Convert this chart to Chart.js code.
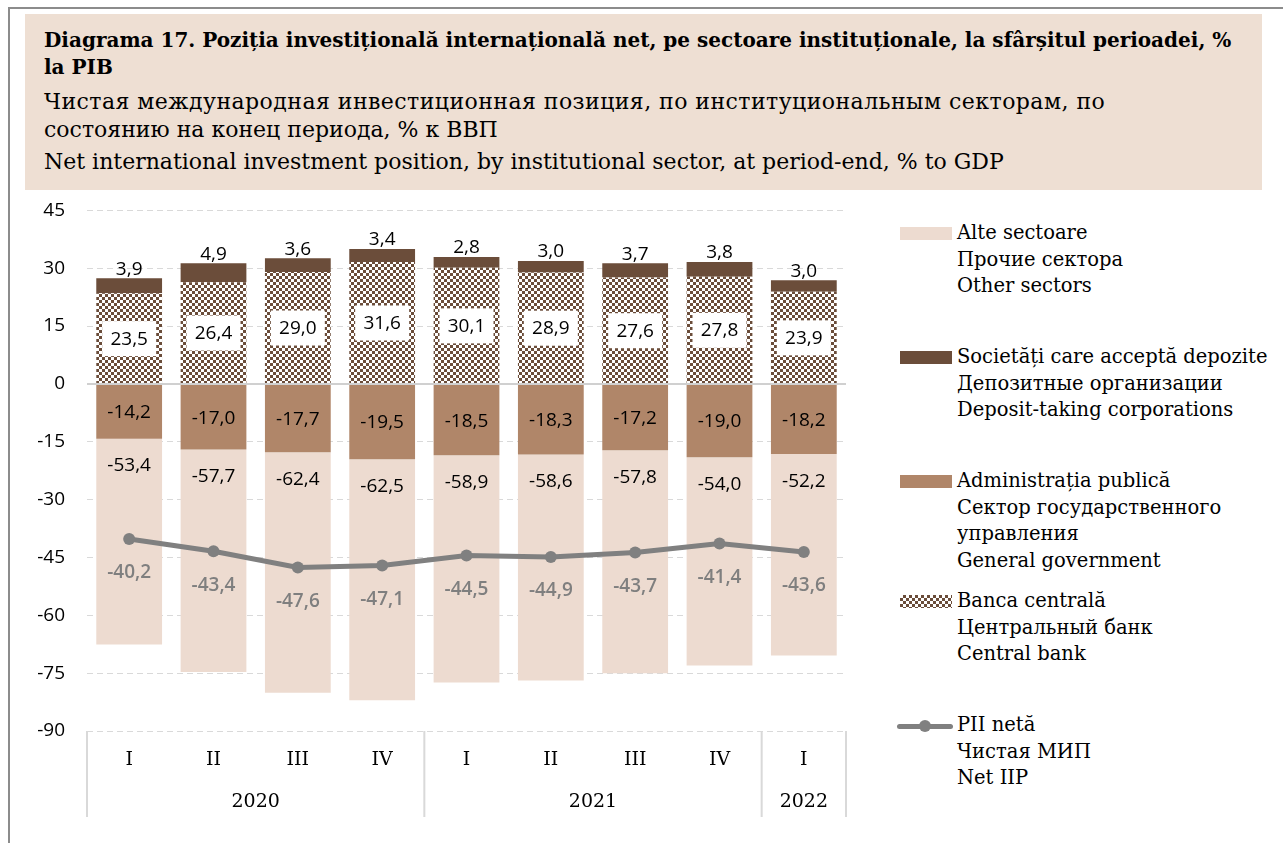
<!DOCTYPE html>
<html>
<head>
<meta charset="utf-8">
<script src="https://cdn.jsdelivr.net/npm/chart.js@4.4.0/dist/chart.umd.min.js"></script>
<style>
  body { margin: 0; width: 1283px; height: 843px; background: #fff; position: relative; overflow: hidden; font-family: "DejaVu Serif", serif; color: #000; }
  #frame { position: absolute; left: 8px; top: 7px; right: 0; bottom: 0; border-top: 2px solid #8c8c8c; border-left: 2px solid #8c8c8c; }
  #head { position: absolute; left: 25px; top: 14px; width: 1237px; height: 176px; background: #eedfd3; }
  #head div { position: absolute; left: 19px; white-space: nowrap; line-height: 28px; font-size: 22px; }
  #head .b { font-weight: bold; font-size: 20px; }
  #chartBox { position: absolute; left: 0; top: 177px; width: 880px; height: 666px; }
  .item { position: absolute; left: 957px; font-size: 19.5px; line-height: 26.5px; white-space: nowrap; }
  .sw { position: absolute; left: 900px; width: 52px; height: 13px; }
</style>
</head>
<body>
<div id="frame"></div>
<div id="head">
  <div class="b" style="top:12px">Diagrama 17. Poziția investițională internațională net, pe sectoare instituționale, la sfârșitul perioadei, %</div>
  <div class="b" style="top:39px">la PIB</div>
  <div style="top:74px;letter-spacing:0.45px">Чистая международная инвестиционная позиция, по институциональным секторам, по</div>
  <div style="top:102px">состоянию на конец периода, % к ВВП</div>
  <div style="top:134px">Net international investment position, by institutional sector, at period-end, % to GDP</div>
</div>
<div id="chartBox"><canvas id="chart"></canvas></div>

<div class="sw" style="top:227px;background:#eddbd0"></div>
<div class="item" style="top:220px">Alte sectoare<br>Прочие сектора<br>Other sectors</div>
<div class="sw" style="top:351px;background:#6b4d3a"></div>
<div class="item" style="top:344px">Societăți care acceptă depozite<br>Депозитные организации<br>Deposit-taking corporations</div>
<div class="sw" style="top:475px;background:#b08669"></div>
<div class="item" style="top:468px">Administrația publică<br>Сектор государственного<br>управления<br>General government</div>
<div class="sw" style="top:595px;background:repeating-conic-gradient(#6b4d3a 0 25%, #fff 0 50%) 0 0/6px 6px"></div>
<div class="item" style="top:588px">Banca centrală<br>Центральный банк<br>Central bank</div>
<div style="position:absolute;left:897px;top:724px;width:56px;height:5px;border-radius:3px;background:#808080"></div>
<div style="position:absolute;left:919px;top:720px;width:12px;height:12px;border-radius:6px;background:#808080"></div>
<div class="item" style="top:712px">PII netă<br>Чистая МИП<br>Net IIP</div>

<script>
const quarters = ['I', 'II', 'III', 'IV', 'I', 'II', 'III', 'IV', 'I'];
const yearLabels = ['2020', '2021', '2022'];
const yearSpans = [4, 4, 1];
const yTicks = [45, 30, 15, 0, -15, -30, -45, -60, -75, -90];

const centralBank = [23.5, 26.4, 29.0, 31.6, 30.1, 28.9, 27.6, 27.8, 23.9];
const depositTaking = [3.9, 4.9, 3.6, 3.4, 2.8, 3.0, 3.7, 3.8, 3.0];
const generalGov = [-14.2, -17.0, -17.7, -19.5, -18.5, -18.3, -17.2, -19.0, -18.2];
const otherSectors = [-53.4, -57.7, -62.4, -62.5, -58.9, -58.6, -57.8, -54.0, -52.2];
const netIIP = [-40.2, -43.4, -47.6, -47.1, -44.5, -44.9, -43.7, -41.4, -43.6];

const fmt = v => v.toFixed(1).replace('.', ',');

const ctx = document.getElementById('chart').getContext('2d');

// checkered fill for the central bank
function checker() {
  const c = document.createElement('canvas');
  c.width = 6; c.height = 6;
  const g = c.getContext('2d');
  g.fillStyle = '#fff';
  g.fillRect(0, 0, 6, 6);
  g.fillStyle = '#6b4d3a';
  g.fillRect(0, 0, 3, 3);
  g.fillRect(3, 3, 3, 3);
  return ctx.createPattern(c, 'repeat');
}

const labelFont = '19px "Open Sans"';

const valueLabels = {
  id: 'valueLabels',
  afterDatasetsDraw(chart) {
    const c = chart.ctx;
    c.save();
    c.textAlign = 'center';
    c.textBaseline = 'middle';
    c.font = labelFont;
    chart.getDatasetMeta(0).data.forEach((el, i) => {
      const mid = (el.y + el.base) / 2;
      c.fillStyle = '#fff';
      c.fillRect(el.x - 27, mid - 17, 54, 35);
      c.fillStyle = '#000';
      c.fillText(fmt(centralBank[i]), el.x, mid + 1);
    });
    chart.getDatasetMeta(1).data.forEach((el, i) => {
      c.fillText(fmt(depositTaking[i]), el.x, el.y - 9);
    });
    chart.getDatasetMeta(2).data.forEach((el, i) => {
      c.fillText(fmt(generalGov[i]), el.x, (el.y + el.base) / 2 + 1);
    });
    chart.getDatasetMeta(3).data.forEach((el, i) => {
      c.fillText(fmt(otherSectors[i]), el.x, el.base + 27);
    });
    c.fillStyle = '#7f7f7f';
    c.font = '600 19px "Open Sans"';
    chart.getDatasetMeta(4).data.forEach((el, i) => {
      c.fillText(fmt(netIIP[i]), el.x, el.y + 34);
    });
    c.restore();
  },
  afterDraw(chart) {
    // grouped category axis: quarters and years
    const c = chart.ctx;
    const xs = chart.scales.x;
    const area = chart.chartArea;
    const half = (xs.getPixelForValue(1) - xs.getPixelForValue(0)) / 2;
    c.save();
    c.strokeStyle = '#d9d9d9';
    c.lineWidth = 2;
    c.font = '19px "DejaVu Serif"';
    c.fillStyle = '#000';
    c.textAlign = 'center';
    c.textBaseline = 'middle';
    quarters.forEach((q, i) => c.fillText(q, xs.getPixelForValue(i), area.bottom + 29));
    let start = 0;
    const edge = i => xs.getPixelForValue(i) - half;
    c.beginPath();
    c.moveTo(edge(0), area.bottom);
    c.lineTo(edge(0), area.bottom + 86);
    yearSpans.forEach((n, k) => {
      const x0 = edge(start), x1 = edge(start + n);
      c.moveTo(x1, area.bottom);
      c.lineTo(x1, area.bottom + 86);
      c.fillText(yearLabels[k], (x0 + x1) / 2, area.bottom + 71);
      start += n;
    });
    c.stroke();
    c.restore();
  }
};

new Chart(ctx, {
  type: 'bar',
  data: {
    labels: quarters,
    datasets: [
      { label: 'Banca centrală', data: centralBank, backgroundColor: checker(), stack: 's', order: 2 },
      { label: 'Societăți care acceptă depozite', data: depositTaking, backgroundColor: '#6b4d3a', stack: 's', order: 2 },
      { label: 'Administrația publică', data: generalGov, backgroundColor: '#b08669', stack: 's', order: 2 },
      { label: 'Alte sectoare', data: otherSectors, backgroundColor: '#eddbd0', stack: 's', order: 2 },
      {
        type: 'line', label: 'PII netă', data: netIIP, stack: 'net', order: 1,
        borderColor: '#808080', borderWidth: 5, backgroundColor: '#808080',
        pointRadius: 6, pointBorderWidth: 0, pointBackgroundColor: '#808080', tension: 0
      }
    ]
  },
  options: {
    responsive: true,
    maintainAspectRatio: false,
    animation: false,
    layout: { padding: { left: 7, right: 34, top: 6, bottom: 112 } },
    datasets: { bar: { categoryPercentage: 1, barPercentage: 0.78 } },
    plugins: { legend: { display: false }, tooltip: { enabled: false } },
    scales: {
      x: { display: false, stacked: true },
      y: {
        stacked: true,
        min: -90, max: 45,
        afterFit: s => { s.width = 80; },
        afterBuildTicks: s => { s.ticks = yTicks.map(v => ({ value: v })); },
        ticks: { font: { family: 'Open Sans', size: 19 }, color: '#000', padding: 22, callback: v => String(v) },
        grid: {
          drawTicks: false,
          color: c => c.tick && c.tick.value === 0 ? '#d0d0d0' : '#d9d9d9',
          lineWidth: c => c.tick && c.tick.value === 0 ? 2 : 1
        },
        border: { display: false, dash: c => c.tick && c.tick.value === 0 ? [] : [6, 4] }
      }
    }
  },
  plugins: [valueLabels]
});
</script>
</body>
</html>
